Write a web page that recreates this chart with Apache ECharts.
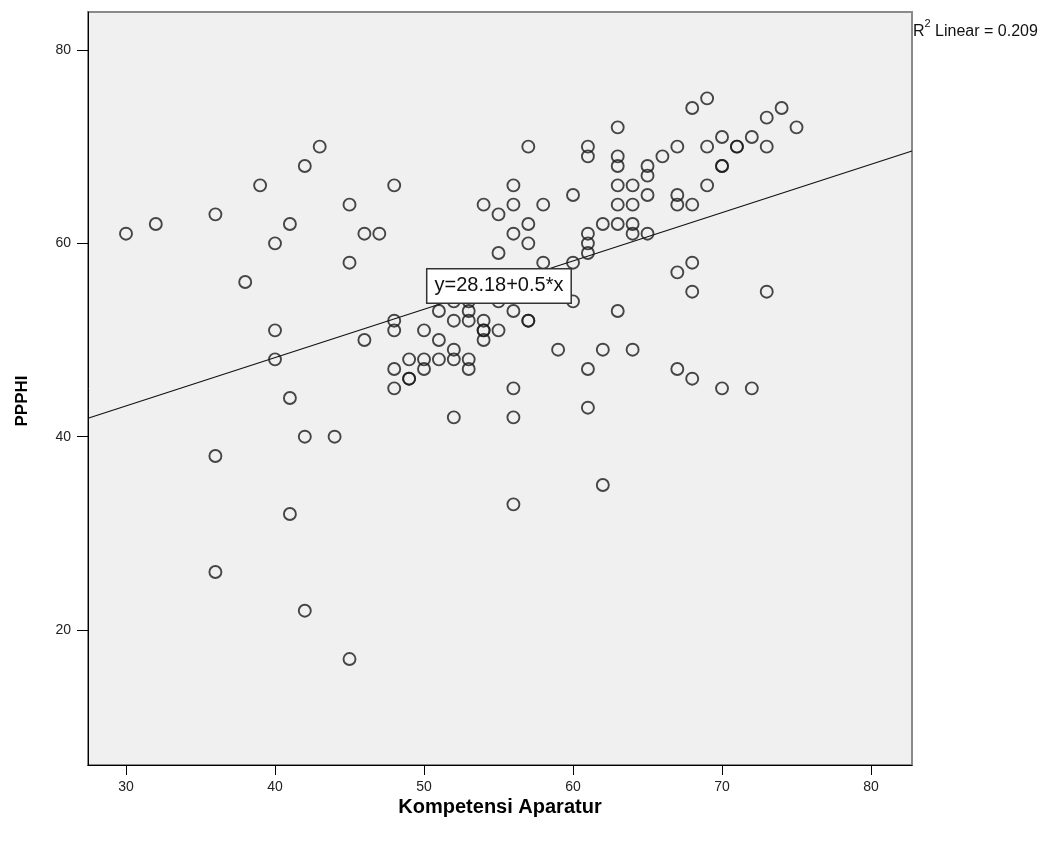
<!DOCTYPE html>
<html>
<head>
<meta charset="utf-8">
<script src="https://cdn.jsdelivr.net/npm/echarts@6/dist/echarts.min.js"></script>
<style>
  html, body { margin: 0; padding: 0; background: #ffffff; }
  #chart { width: 1061px; height: 842px; }
</style>
</head>
<body>
<div id="chart"></div>
<script>
// ---- Data ----
const xValues = [
  30, 32, 36, 36, 36, 38, 39, 40, 40, 40, 41, 41, 41, 42, 42, 42, 43, 44, 45, 45,
  45, 46, 46, 47, 48, 48, 48, 48, 48, 49, 49, 49, 50, 50, 50, 51, 51, 51, 52, 52,
  52, 52, 52, 53, 53, 53, 53, 53, 54, 54, 54, 54, 54, 55, 55, 55, 55, 56, 56, 56,
  56, 56, 56, 56, 57, 57, 57, 57, 57, 58, 58, 59, 60, 60, 60, 61, 61, 61, 61, 61,
  61, 61, 62, 62, 62, 63, 63, 63, 63, 63, 63, 63, 64, 64, 64, 64, 64, 65, 65, 65,
  65, 66, 67, 67, 67, 67, 67, 68, 68, 68, 68, 68, 69, 69, 69, 70, 70, 70, 70, 71,
  71, 72, 72, 73, 73, 73, 74, 75
];
const yValues = [
  61, 62, 63, 38, 26, 56, 66, 60, 51, 48, 62, 44, 32, 68, 40, 22, 70, 40, 64, 58,
  17, 61, 50, 61, 66, 52, 51, 47, 45, 48, 46, 46, 51, 48, 47, 53, 50, 48, 54, 52,
  49, 48, 42, 54, 53, 52, 48, 47, 64, 52, 51, 51, 50, 63, 59, 54, 51, 66, 64, 61,
  53, 45, 42, 33, 70, 62, 60, 52, 52, 64, 58, 49, 65, 58, 54, 70, 69, 61, 60, 59,
  47, 43, 62, 49, 35, 72, 69, 68, 66, 64, 62, 53, 66, 64, 62, 61, 49, 68, 67, 65,
  61, 69, 70, 65, 64, 57, 47, 74, 64, 58, 55, 46, 75, 70, 66, 71, 68, 68, 45, 70,
  70, 71, 45, 73, 70, 55, 74, 72
];
const xTicks = [30, 40, 50, 60, 70, 80];
const yTicks = [20, 40, 60, 80];
const fitIntercept = 28.18;
const fitSlope = 0.5;
const rSquared = 0.209;
const xTitle = 'Kompetensi Aparatur';
const yTitle = 'PPPHI';

// ---- Axis extents ----
const xMin = 27.45, xMax = 82.75;
const yMin = 6.04, yMax = 83.93;

const points = xValues.map((x, i) => [x, yValues[i]]);
const fitLine = [
  [xMin, fitIntercept + fitSlope * xMin],
  [xMax, fitIntercept + fitSlope * xMax]
];

const FONT = "'Liberation Sans', Arial, sans-serif";

const chart = echarts.init(document.getElementById('chart'), null, { renderer: 'canvas' });
chart.setOption({
  animation: false,
  backgroundColor: '#ffffff',
  grid: {
    left: 88, right: 149, top: 12, bottom: 77,
    show: true,
    backgroundColor: '#f0f0f0',
    borderColor: '#8a8a8a',
    borderWidth: 2
  },
  xAxis: {
    type: 'value',
    min: xMin, max: xMax,
    name: xTitle,
    nameLocation: 'middle',
    nameGap: 32,
    nameMoveOverlap: false,
    nameTextStyle: { fontFamily: FONT, fontWeight: 'bold', fontSize: 20, color: '#000' },
    axisLine: { show: true, onZero: false, lineStyle: { color: '#000', width: 1 } },
    axisTick: { show: true, length: 10, customValues: xTicks, lineStyle: { color: '#000' } },
    axisLabel: { customValues: xTicks, color: '#222', fontSize: 14, fontFamily: FONT, margin: 15 },
    splitLine: { show: false }
  },
  yAxis: {
    type: 'value',
    min: yMin, max: yMax,
    axisLine: { show: true, onZero: false, lineStyle: { color: '#000', width: 1 } },
    axisTick: { show: true, length: 11, customValues: yTicks, lineStyle: { color: '#000' } },
    axisLabel: { customValues: yTicks, color: '#222', fontSize: 14, fontFamily: FONT, margin: 17 },
    splitLine: { show: false }
  },
  series: [
    {
      type: 'line',
      data: fitLine,
      symbol: 'none',
      silent: true,
      lineStyle: { color: '#111', width: 1.2 },
      z: 2,
      markPoint: {
        symbol: 'rect',
        symbolSize: 0,
        data: [{ coord: [55.03, 55.6], value: 0 }],
        label: {
          show: true,
          position: 'inside',
          formatter: 'y=' + fitIntercept + '+' + fitSlope + '*x',
          backgroundColor: '#ffffff',
          borderColor: '#333',
          borderWidth: 1.5,
          padding: [7, 7, 6, 7],
          color: '#111',
          fontSize: 20,
          fontFamily: FONT
        }
      }
    },
    {
      type: 'scatter',
      data: points,
      symbol: 'circle',
      symbolSize: 12,
      itemStyle: { color: 'rgba(0,0,0,0)', borderColor: '#1a1a1a', borderWidth: 1.9 },
      z: 3
    }
  ],
  graphic: [
    {
      type: 'text',
      x: 22,
      y: 401,
      rotation: Math.PI / 2,
      style: {
        text: yTitle,
        align: 'center',
        verticalAlign: 'middle',
        font: "bold 17px 'Liberation Sans', Arial, sans-serif",
        fill: '#000'
      }
    },
    {
      type: 'text',
      left: 913,
      top: 18,
      style: {
        text: '{r|R}{s|2}{t| Linear = ' + rSquared + '}',
        rich: {
          r: { fontSize: 16, fontFamily: FONT, fill: '#111', verticalAlign: 'bottom', lineHeight: 22 },
          s: { fontSize: 11, fontFamily: FONT, fill: '#111', verticalAlign: 'top', lineHeight: 22 },
          t: { fontSize: 16, fontFamily: FONT, fill: '#111', verticalAlign: 'bottom', lineHeight: 22 }
        }
      }
    }
  ]
});
</script>
</body>
</html>
